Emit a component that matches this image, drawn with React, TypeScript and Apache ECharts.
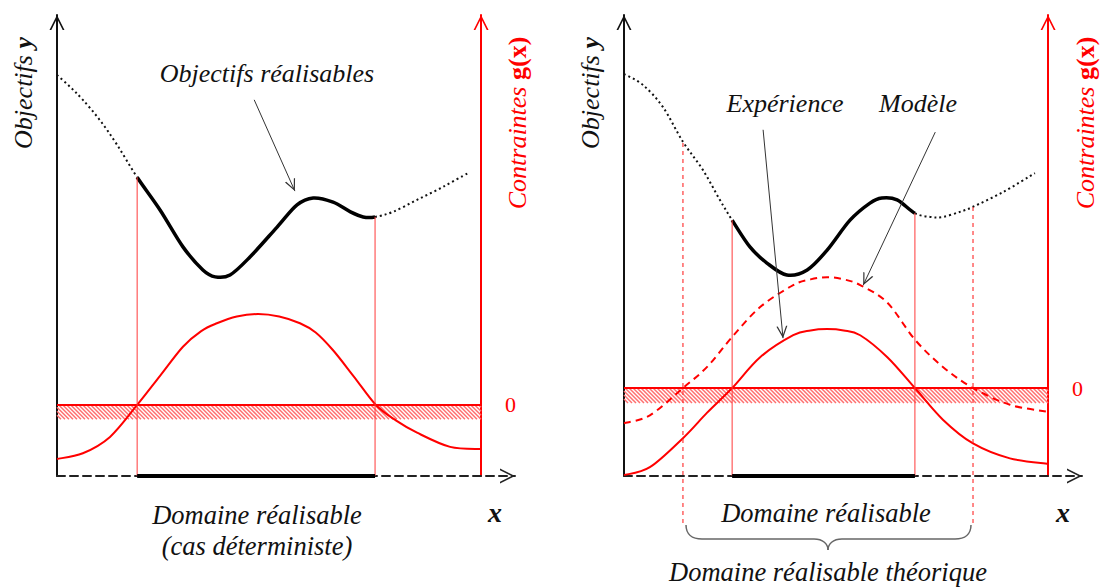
import React, { useEffect, useRef } from 'react';
import * as echarts from 'echarts';

type P = [number, number];

// ---------------- Panel A : deterministic case ----------------
const aObjDottedLeft: P[] = [[0, 8.70], [0.31, 8.44], [0.61, 8.16], [1.01, 7.72], [1.42, 7.18], [1.89, 6.48]];
const aObjSolid: P[] = [[1.89, 6.48], [2.43, 5.77], [2.97, 4.97], [3.44, 4.47], [3.73, 4.32], [4.08, 4.36], [4.55, 4.75], [5.19, 5.40], [5.66, 5.88], [6.04, 6.03], [6.51, 5.94], [6.92, 5.73], [7.22, 5.62], [7.50, 5.62]];
const aObjDottedRight: P[] = [[7.50, 5.62], [7.92, 5.73], [8.49, 5.99], [9.10, 6.27], [9.69, 6.57]];
const aConstraint: P[] = [[0, -0.76], [0.61, -0.68], [1.25, -0.45], [1.89, 0], [2.43, 0.41], [2.97, 0.82], [3.40, 1.04], [3.77, 1.15], [4.24, 1.245], [4.74, 1.28], [5.24, 1.245], [5.73, 1.15], [6.10, 1.02], [6.51, 0.77], [7.0, 0.40], [7.52, 0], [8.0, -0.22], [8.49, -0.39], [9.27, -0.59], [10, -0.62]];
const aFeasible: P = [1.89, 7.50];
const aBandDepth = -0.2;
const aGMax = 5.49;

// ---------------- Panel B : experiment vs model ----------------
const bObjDottedLeft: P[] = [[0, 8.72], [0.45, 8.48], [0.92, 8.00], [1.39, 7.25], [1.86, 6.64], [2.26, 5.99], [2.55, 5.55]];
const bObjSolid: P[] = [[2.55, 5.55], [2.97, 4.97], [3.37, 4.62], [3.84, 4.36], [4.32, 4.47], [4.79, 4.90], [5.33, 5.55], [5.80, 5.92], [6.08, 6.03], [6.44, 5.99], [6.86, 5.70]];
const bObjDottedRight: P[] = [[6.86, 5.70], [7.22, 5.62], [7.52, 5.62], [7.92, 5.73], [8.23, 5.84], [8.94, 6.16], [9.69, 6.57]];
const bX = [0, 0.61, 1.39, 1.96, 2.55, 3.21, 3.99, 4.40, 4.79, 5.18, 5.57, 6.21, 6.86, 7.52, 8.23, 9.10, 10];
const bModel = [-0.40, -0.31, 0, 0.24, 0.58, 0.92, 1.17, 1.235, 1.26, 1.235, 1.17, 0.97, 0.55, 0.24, 0, -0.19, -0.27];
const bExperiment = [-0.99, -0.90, -0.57, -0.28, 0, 0.35, 0.60, 0.655, 0.67, 0.655, 0.60, 0.35, 0, -0.36, -0.63, -0.80, -0.86];
const bFeasible: P = [2.55, 6.86];
const bTheoretical: P = [1.39, 8.23];
const bTheoreticalBottom = -1.02;
const bBandDepth = -0.17;
const bGMax = 4.24;

// annotation arrows (data coordinates on objective axis)
const aArrow: P[] = [[4.65, 8.16], [5.61, 6.18]];
const bArrowExp: P[] = [[3.28, 7.51], [3.75, 2.99]];
const bArrowModel: P[] = [[7.34, 7.46], [5.64, 4.14]];

const X_MAX = 10.8;
const GRID_W = 458;
const W = 1103;
const H = 588;
const RED = '#ff0000';
const SERIF = '"Liberation Serif", "Times New Roman", serif';
const ARROW = 'path://M5,0 M0,20 L5,10 L10,20 L8.8,20 L5,12.4 L1.2,20 Z';

function objAt(pts: P[][], x: number): number {
  for (const arr of pts) for (const p of arr) if (Math.abs(p[0] - x) < 1e-9) return p[1];
  return 0;
}

function line(data: any[], xi: number, yi: number, color: string, width: number, type: any, extra: any = {}) {
  return {
    type: 'line', xAxisIndex: xi, yAxisIndex: yi, data, symbol: 'none', showSymbol: false,
    lineStyle: { color, width, type }, silent: true, z: 3, ...extra,
  };
}

// smooth curve (Catmull-Rom through the data points, in pixel space via the axes)
function curve(points: P[], xi: number, yi: number, color: string, width: number, dash: number[] | null,
  prev: P | null = null, next: P | null = null, extra: any = {}) {
  return {
    type: 'custom', xAxisIndex: xi, yAxisIndex: yi, silent: true, z: 3,
    data: points,
    encode: { x: 0, y: 1 },
    renderItem: (params: any, api: any) => {
      if (params.dataIndex !== 0) return { type: 'group', children: [] };
      const all: number[][] = [];
      if (prev) all.push(api.coord(prev));
      const s = all.length;
      points.forEach(p => all.push(api.coord(p)));
      const e = all.length - 1;
      if (next) all.push(api.coord(next));
      const n = all.length;
      let d = `M0,0 M${W},${H} M${all[s][0]},${all[s][1]}`;
      for (let i = s; i < e; i++) {
        const p0 = all[Math.max(i - 1, 0)], p1 = all[i], p2 = all[i + 1], p3 = all[Math.min(i + 2, n - 1)];
        const c1x = p1[0] + (p2[0] - p0[0]) / 6, c1y = p1[1] + (p2[1] - p0[1]) / 6;
        const c2x = p2[0] - (p3[0] - p1[0]) / 6, c2y = p2[1] - (p3[1] - p1[1]) / 6;
        d += ` C${c1x},${c1y} ${c2x},${c2y} ${p2[0]},${p2[1]}`;
      }
      return {
        type: 'path',
        shape: { pathData: d, x: 0, y: 0, width: W, height: H, layout: 'cover' },
        style: { stroke: color, fill: 'none', lineWidth: width, lineDash: dash || undefined, lineCap: 'butt', lineJoin: 'round' },
      };
    },
    ...extra,
  };
}

function hatch(xi: number, yi: number, depth: number) {
  return {
    type: 'custom', xAxisIndex: xi, yAxisIndex: yi, silent: true, z: 2,
    data: [[0, 10, 0, depth]],
    encode: { x: [0, 1], y: [2, 3] },
    renderItem: (params: any, api: any) => {
      const p0 = api.coord([api.value(0), api.value(2)]);
      const p1 = api.coord([api.value(1), api.value(3)]);
      const x0 = p0[0], x1 = p1[0], top = p0[1], bot = p1[1];
      const h = bot - top;
      const children: any[] = [];
      for (let x = x0 - h; x < x1; x += 4) {
        const sx = Math.max(x, x0), ex = Math.min(x + h, x1);
        if (ex <= sx) continue;
        children.push({
          type: 'line',
          shape: { x1: sx, y1: top + (sx - x), x2: ex, y2: top + (ex - x) },
          style: { stroke: '#ff6f6f', lineWidth: 1.5 },
        });
      }
      return { type: 'group', children };
    },
  };
}

function arrowMark(arrows: P[][]) {
  return {
    silent: true, symbol: ['none', ARROW], symbolSize: [11, 24],
    label: { show: false }, lineStyle: { color: '#333', width: 1, type: 'solid' },
    data: arrows.map(a => [{ coord: a[0] }, { coord: a[1] }]),
  };
}

function text(t: string, x: number, y: number, size: number, extra: any = {}) {
  return {
    type: 'text', x, y, silent: true,
    style: { text: t, fill: '#111', fontFamily: SERIF, fontStyle: 'italic', fontSize: size, align: 'center', verticalAlign: 'middle', textAlign: 'center', textVerticalAlign: 'middle', ...extra },
  };
}

function buildOption() {
  const redOffset = -GRID_W * (X_MAX - 10) / X_MAX;
  const grids = [
    { left: 57, top: 15, width: GRID_W, height: 461 },
    { left: 624, top: 15, width: GRID_W, height: 461 },
  ];
  const axisArrow = { symbol: ['none', ARROW], symbolSize: [16, 30] };
  const xAxis = grids.map((_, i) => ({
    type: 'value', gridIndex: i, min: 0, max: X_MAX,
    axisLine: { show: true, onZero: false, ...axisArrow, lineStyle: { color: '#222', width: 2, type: [8, 5] } },
    axisTick: { show: false }, axisLabel: { show: false }, splitLine: { show: false },
  }));
  const objAxis = (i: number) => ({
    type: 'value', gridIndex: i, min: 0, max: 10, position: 'left',
    axisLine: { show: true, onZero: false, ...axisArrow, lineStyle: { color: '#111', width: 2 } },
    axisTick: { show: false }, axisLabel: { show: false }, splitLine: { show: false },
  });
  const gAxis = (i: number, max: number) => ({
    type: 'value', gridIndex: i, min: -1, max, interval: 1, position: 'right', offset: redOffset,
    axisLine: { show: true, onZero: false, ...axisArrow, lineStyle: { color: RED, width: 2 } },
    axisTick: { show: false }, splitLine: { show: false },
    axisLabel: { show: true, color: RED, fontSize: 22, fontFamily: SERIF, margin: 24, formatter: (v: number) => (Math.abs(v) < 1e-9 ? '0' : '') },
  });
  const yAxis = [objAxis(0), gAxis(0, aGMax), objAxis(1), gAxis(1, bGMax)];

  const thin = '#ff3a3a';
  const dot = [2, 3];
  const bModelPts: P[] = bX.map((x, k) => [x, bModel[k]]);
  const bExpPts: P[] = bX.map((x, k) => [x, bExperiment[k]]);
  const series: any[] = [
    // ---- panel A ----
    hatch(0, 1, aBandDepth),
    line([[0, 0], [10, 0]], 0, 1, RED, 2, 'solid'),
    curve(aConstraint, 0, 1, RED, 2, null),
    line([[aFeasible[0], 0], [aFeasible[0], objAt([aObjSolid], aFeasible[0])]], 0, 0, thin, 1, 'solid'),
    line([[aFeasible[1], 0], [aFeasible[1], objAt([aObjSolid], aFeasible[1])]], 0, 0, thin, 1, 'solid'),
    curve(aObjDottedLeft, 0, 0, '#111', 2, dot, null, aObjSolid[1]),
    curve(aObjDottedRight, 0, 0, '#111', 2, dot, aObjSolid[aObjSolid.length - 2], null),
    curve(aObjSolid, 0, 0, '#000', 3.5, null, aObjDottedLeft[aObjDottedLeft.length - 2], aObjDottedRight[1], { markLine: arrowMark([aArrow]) }),
    line([[aFeasible[0], 0], [aFeasible[1], 0]], 0, 0, '#000', 4, 'solid', { clip: false, z: 4 }),
    // ---- panel B ----
    hatch(1, 3, bBandDepth),
    line([[0, 0], [10, 0]], 1, 3, RED, 2, 'solid'),
    curve(bModelPts, 1, 3, RED, 2, [7, 5]),
    curve(bExpPts, 1, 3, RED, 2, null),
    line([[bFeasible[0], 0], [bFeasible[0], objAt([bObjSolid], bFeasible[0])]], 1, 2, thin, 1, 'solid'),
    line([[bFeasible[1], 0], [bFeasible[1], objAt([bObjSolid], bFeasible[1])]], 1, 2, thin, 1, 'solid'),
    line([[bTheoretical[0], bTheoreticalBottom], [bTheoretical[0], objAt([bObjDottedLeft], bTheoretical[0])]], 1, 2, thin, 1.2, [4, 4], { clip: false }),
    line([[bTheoretical[1], bTheoreticalBottom], [bTheoretical[1], objAt([bObjDottedRight], bTheoretical[1])]], 1, 2, thin, 1.2, [4, 4], { clip: false }),
    curve(bObjDottedLeft, 1, 2, '#111', 2, dot, null, bObjSolid[1]),
    curve(bObjDottedRight, 1, 2, '#111', 2, dot, bObjSolid[bObjSolid.length - 2], null),
    curve(bObjSolid, 1, 2, '#000', 3.5, null, bObjDottedLeft[bObjDottedLeft.length - 2], bObjDottedRight[1], { markLine: arrowMark([bArrowExp, bArrowModel]) }),
    line([[bFeasible[0], 0], [bFeasible[1], 0]], 1, 2, '#000', 4, 'solid', { clip: false, z: 4 }),
  ];

  const richAxisTitle = (main: string, sym: string, color: string, x: number, y: number, symItalic: boolean) => ({
    type: 'text', x, y, rotation: Math.PI / 2, silent: true,
    style: {
      text: `{a|${main} }{b|${sym}}`, align: 'center', verticalAlign: 'middle', textAlign: 'center', textVerticalAlign: 'middle',
      rich: {
        a: { fill: color, color, fontFamily: SERIF, fontStyle: 'italic', fontSize: 26 },
        b: { fill: color, color, fontFamily: SERIF, fontStyle: symItalic ? 'italic' : 'normal', fontWeight: 'bold', fontSize: 26 },
      },
    },
  });

  const br = { stroke: '#666', lineWidth: 1.5, fill: 'none' };
  const graphic: any[] = [
    richAxisTitle('Objectifs', 'y', '#111', 23, 93, true),
    richAxisTitle('Contraintes', 'g(x)', RED, 517, 123, false),
    richAxisTitle('Objectifs', 'y', '#111', 590, 93, true),
    richAxisTitle('Contraintes', 'g(x)', RED, 1085, 123, false),
    text('Objectifs réalisables', 267, 73, 26),
    text('Expérience', 785, 103, 26),
    text('Modèle', 918, 103, 26),
    text('Domaine réalisable', 257, 515, 26.5),
    text('(cas déterministe)', 257, 546, 26.5),
    text('Domaine réalisable', 826, 513, 26.5),
    text('Domaine réalisable théorique', 828, 572, 26.5),
    text('x', 495, 512, 28, { fontWeight: 'bold' }),
    text('x', 1063, 512, 28, { fontWeight: 'bold' }),
    { type: 'bezierCurve', silent: true, shape: { x1: 686, y1: 525, x2: 702, y2: 539, cpx1: 686, cpy1: 534, cpx2: 692, cpy2: 539 }, style: br },
    { type: 'line', silent: true, shape: { x1: 702, y1: 539, x2: 814, y2: 539 }, style: br },
    { type: 'bezierCurve', silent: true, shape: { x1: 814, y1: 539, x2: 828, y2: 550, cpx1: 823, cpy1: 539, cpx2: 828, cpy2: 544 }, style: br },
    { type: 'bezierCurve', silent: true, shape: { x1: 828, y1: 550, x2: 842, y2: 539, cpx1: 828, cpy1: 544, cpx2: 833, cpy2: 539 }, style: br },
    { type: 'line', silent: true, shape: { x1: 842, y1: 539, x2: 955, y2: 539 }, style: br },
    { type: 'bezierCurve', silent: true, shape: { x1: 955, y1: 539, x2: 971, y2: 525, cpx1: 965, cpy1: 539, cpx2: 971, cpy2: 534 }, style: br },
  ];

  return { animation: false, backgroundColor: '#fff', grid: grids, xAxis, yAxis, series, graphic };
}

export default function App() {
  const ref = useRef<HTMLDivElement>(null);
  useEffect(() => {
    const chart = echarts.init(ref.current!, null, { renderer: 'svg' });
    chart.setOption(buildOption() as any);
    return () => chart.dispose();
  }, []);
  return <div ref={ref} style={{ position: 'absolute', left: 0, top: 0, width: W, height: H, background: '#fff' }} />;
}
